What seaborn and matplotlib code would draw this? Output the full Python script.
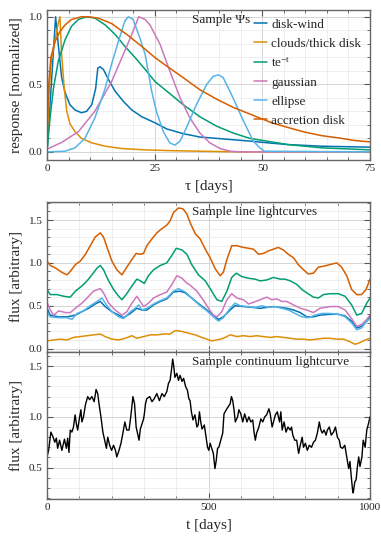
import numpy as np
import pandas as pd
import matplotlib
matplotlib.use("Agg")
import matplotlib.pyplot as plt
import seaborn as sns
from matplotlib.ticker import MultipleLocator, FormatStrFormatter

# ---------------- data: transfer functions (top panel) ----------------
labels = ["disk-wind", "clouds/thick disk", r"te$^{-\mathrm{t}}$", "gaussian", "ellipse", "accretion disk"]

tau_wind = [0, 1.0, 2.0, 2.6, 3.4, 4.2, 5.3, 6.5, 8.0, 9.2, 10.4, 11.3, 11.8, 12.3, 13.1, 14.2, 15.8,
            17.7, 19.7, 22.0, 25.1, 27.8, 31.6, 35.5, 39.4, 43.2, 47.1, 52, 56, 63.8, 75]
psi_wind = [0, 0.5, 1.0, 0.80, 0.55, 0.44, 0.35, 0.31, 0.29, 0.30, 0.35, 0.47, 0.62, 0.63, 0.61, 0.54, 0.45,
            0.375, 0.31, 0.26, 0.215, 0.17, 0.135, 0.11, 0.10, 0.09, 0.08, 0.065, 0.054, 0.042, 0.035]

tau_clouds = [0, 0.5, 1.0, 2.0, 2.6, 3.0, 3.4, 4.0, 4.6, 5.3, 6.5, 8.0, 10.4, 13.5, 17.3, 22.8, 27.8, 35.5, 45, 75]
psi_clouds = [0, 0.45, 0.68, 0.85, 0.95, 1.0, 0.72, 0.47, 0.30, 0.21, 0.15, 0.10, 0.067, 0.042, 0.025, 0.015,
              0.01, 0.005, 0.0, 0.0]

tau_tet = [0, 0.7, 1.5, 2.6, 4.2, 5.7, 7.3, 9.2, 11.1, 13.5, 15.8, 18.1, 20.4, 22.8, 25.1, 27.8, 31.6, 35.5,
           39.4, 43.2, 47.1, 56, 63.8, 75]
psi_tet = [0, 0.25, 0.47, 0.67, 0.83, 0.93, 0.98, 1.0, 0.99, 0.94, 0.87, 0.78, 0.70, 0.61, 0.52, 0.45, 0.35, 0.26,
           0.19, 0.14, 0.10, 0.054, 0.03, 0.015]

tau_gauss = [0, 3.4, 7.3, 11.1, 15, 18.1, 19.7, 21.3, 22.8, 23.9, 26.2, 28.5, 30.9, 33.2, 35.5, 37.8, 40.2, 42.5, 45, 75]
psi_gauss = [0.02, 0.07, 0.15, 0.30, 0.52, 0.75, 0.87, 1.0, 0.98, 0.94, 0.80, 0.60, 0.40, 0.25, 0.14, 0.067,
             0.025, 0.005, 0, 0]

tau_ell = [0, 4.2, 6.5, 8.8, 11.1, 13.5, 15, 16.6, 18.1, 18.9, 20, 21.6, 22.8, 24.3, 25.4, 27, 28.5, 29.7, 30.9,
           32.4, 34.7, 37.1, 38.6, 39.8, 40.9, 43.2, 45.6, 47.9, 49.4, 50.5, 75]
psi_ell = [0, 0.005, 0.03, 0.10, 0.25, 0.47, 0.65, 0.82, 0.97, 1.0, 0.98, 0.84, 0.72, 0.45, 0.30, 0.15, 0.067,
           0.05, 0.08, 0.18, 0.35, 0.50, 0.56, 0.57, 0.55, 0.40, 0.23, 0.08, 0.03, 0.005, 0]

tau_acc = [0, 0.4, 0.9, 1.9, 3.0, 4.2, 5.7, 8.0, 9.6, 11.9, 15, 18.9, 22.8, 25, 27.8, 31.6, 35.5, 39.4, 43.2,
           47.1, 52.2, 56, 59.9, 63.8, 67.6, 71.5, 75]
psi_acc = [0.15, 0.5, 0.70, 0.82, 0.89, 0.94, 0.98, 1.0, 1.0, 0.99, 0.95, 0.86, 0.76, 0.70, 0.635, 0.55, 0.46,
           0.39, 0.33, 0.28, 0.215, 0.18, 0.146, 0.12, 0.104, 0.084, 0.074]

# ---------------- data: line lightcurves (middle panel) ----------------
t_wind = [0, 10, 36, 62, 88, 108, 129, 149, 165, 180, 201, 222, 237, 258, 278, 294, 309, 330, 351, 371,
          392, 412, 428, 448, 474, 495, 515, 531, 546, 567, 582, 608, 639, 660, 680, 701, 722, 742, 763, 784,
          804, 825, 845, 876, 902, 923, 943, 959, 974, 990, 1000]
f_wind = [0.47, 0.39, 0.37, 0.37, 0.39, 0.43, 0.47, 0.52, 0.55, 0.49, 0.43, 0.39, 0.36, 0.41, 0.47, 0.45, 0.45,
          0.51, 0.55, 0.58, 0.66, 0.67, 0.65, 0.59, 0.51, 0.45, 0.39, 0.34, 0.37, 0.45, 0.50, 0.49, 0.48, 0.47,
          0.48, 0.49, 0.48, 0.47, 0.45, 0.42, 0.37, 0.37, 0.39, 0.40, 0.40, 0.38, 0.32, 0.24, 0.26, 0.32, 0.37]

t_clouds = [0, 21, 41, 62, 82, 103, 124, 144, 165, 180, 201, 222, 242, 263, 278, 299, 320, 340, 361, 381,
            397, 418, 438, 459, 479, 495, 510, 526, 546, 567, 588, 608, 629, 649, 670, 691, 711, 732, 753, 773,
            794, 814, 835, 856, 876, 897, 918, 938, 954, 969, 985, 1000]
f_clouds = [0.09, 0.10, 0.11, 0.10, 0.13, 0.14, 0.15, 0.16, 0.17, 0.14, 0.11, 0.10, 0.12, 0.15, 0.12, 0.14,
            0.16, 0.16, 0.17, 0.17, 0.21, 0.20, 0.18, 0.16, 0.13, 0.11, 0.09, 0.10, 0.12, 0.16, 0.14, 0.15,
            0.14, 0.15, 0.14, 0.13, 0.14, 0.13, 0.12, 0.11, 0.11, 0.10, 0.11, 0.12, 0.12, 0.11, 0.11, 0.08,
            0.05, 0.07, 0.10, 0.12]

t_tet = [0, 10, 31, 52, 72, 88, 108, 124, 139, 155, 165, 175, 188, 206, 222, 232, 245, 263, 278, 289,
         301, 314, 330, 351, 371, 387, 400, 418, 433, 448, 469, 490, 510, 526, 541, 557, 572, 586, 603, 624,
         644, 660, 680, 701, 722, 737, 753, 773, 789, 804, 825, 840, 856, 876, 902, 923, 943, 959, 974, 990, 1000]
f_tet = [0.69, 0.63, 0.63, 0.61, 0.60, 0.67, 0.73, 0.79, 0.86, 0.94, 0.97, 0.92, 0.81, 0.69, 0.61, 0.57, 0.63,
         0.73, 0.81, 0.79, 0.76, 0.85, 0.92, 0.97, 1.00, 1.09, 1.17, 1.15, 1.10, 0.98, 0.86, 0.79, 0.67, 0.57,
         0.55, 0.67, 0.83, 0.88, 0.84, 0.82, 0.81, 0.79, 0.80, 0.83, 0.81, 0.81, 0.79, 0.75, 0.69, 0.65, 0.60,
         0.59, 0.63, 0.64, 0.64, 0.61, 0.51, 0.39, 0.41, 0.53, 0.59]

t_gauss = [0, 10, 21, 36, 57, 72, 88, 108, 124, 144, 165, 175, 191, 211, 232, 247, 263, 278, 289, 299,
           314, 330, 351, 371, 387, 402, 418, 431, 443, 464, 485, 500, 515, 526, 541, 557, 572, 588, 608, 624,
           639, 660, 680, 696, 711, 727, 742, 763, 784, 804, 825, 845, 876, 902, 923, 943, 959, 974, 990, 1000]
f_gauss = [0.54, 0.45, 0.39, 0.44, 0.42, 0.42, 0.47, 0.53, 0.59, 0.67, 0.70, 0.65, 0.53, 0.45, 0.39, 0.43,
           0.53, 0.61, 0.55, 0.49, 0.53, 0.59, 0.63, 0.66, 0.75, 0.85, 0.82, 0.77, 0.74, 0.67, 0.56, 0.47, 0.39,
           0.37, 0.43, 0.57, 0.64, 0.59, 0.57, 0.52, 0.54, 0.57, 0.60, 0.57, 0.58, 0.55, 0.55, 0.51, 0.47, 0.45,
           0.42, 0.47, 0.49, 0.49, 0.45, 0.35, 0.26, 0.28, 0.34, 0.39]

t_ell = [0, 10, 36, 62, 77, 93, 113, 134, 155, 170, 184, 201, 222, 237, 258, 273, 284, 294, 309, 330,
         351, 371, 392, 407, 428, 448, 474, 495, 515, 531, 546, 567, 582, 598, 624, 644, 665, 686, 706, 727,
         747, 768, 789, 809, 830, 851, 876, 902, 923, 943, 959, 974, 990, 1000]
f_ell = [0.43, 0.37, 0.36, 0.36, 0.34, 0.41, 0.44, 0.50, 0.55, 0.59, 0.51, 0.43, 0.37, 0.35, 0.43, 0.47, 0.51,
         0.45, 0.47, 0.52, 0.56, 0.59, 0.67, 0.70, 0.66, 0.59, 0.50, 0.44, 0.37, 0.32, 0.36, 0.47, 0.53, 0.50,
         0.49, 0.48, 0.50, 0.48, 0.49, 0.47, 0.45, 0.41, 0.37, 0.36, 0.39, 0.41, 0.41, 0.40, 0.37, 0.30, 0.22,
         0.24, 0.32, 0.35]

t_acc = [0, 10, 26, 46, 62, 72, 88, 103, 119, 134, 149, 165, 175, 186, 201, 216, 232, 247, 263, 276,
         289, 299, 309, 325, 340, 356, 371, 381, 392, 407, 421, 433, 443, 459, 474, 490, 505, 521, 536, 546,
         557, 572, 588, 608, 624, 639, 655, 670, 686, 701, 716, 732, 747, 763, 778, 794, 809, 825, 840, 856,
         876, 897, 912, 928, 943, 959, 974, 988, 1000]
f_acc = [1.02, 0.97, 0.94, 0.89, 0.86, 0.90, 0.98, 1.02, 1.10, 1.20, 1.30, 1.35, 1.30, 1.18, 1.02, 0.92, 0.86,
         0.95, 1.04, 1.11, 1.10, 1.11, 1.20, 1.28, 1.35, 1.40, 1.44, 1.49, 1.59, 1.64, 1.63, 1.57, 1.47, 1.34,
         1.28, 1.16, 1.06, 0.93, 0.85, 0.89, 1.04, 1.20, 1.20, 1.18, 1.17, 1.16, 1.10, 1.11, 1.14, 1.16, 1.18,
         1.15, 1.10, 1.06, 0.98, 0.92, 0.87, 0.88, 0.95, 0.96, 0.98, 1.00, 0.95, 0.85, 0.69, 0.63, 0.63, 0.69, 0.81]

# ---------------- data: continuum lightcurve (bottom panel) ----------------
t_cont = [0, 5, 12, 19, 24, 29, 33, 39, 46, 54, 60, 64, 68, 72, 77, 82, 87, 91, 95, 100, 105, 108, 113, 119,
          126, 132, 139, 146, 152, 157, 161, 167, 173, 177, 184, 188, 194, 200, 206, 212, 216, 223, 229, 235,
          241, 247, 254, 260, 266, 271, 276, 280, 285, 289, 294, 299, 301, 305, 309, 318, 325, 332, 340, 348,
          356, 363, 371, 376, 381, 386, 389, 392, 396, 402, 407, 412, 418, 423, 429, 435, 439, 443, 447, 452,
          458, 464, 468, 472, 476, 480, 487, 493, 497, 501, 505, 509, 515, 520, 524, 528, 532, 538, 544, 548,
          555, 561, 567, 571, 575, 579, 583, 590, 594, 600, 606, 612, 619, 625, 631, 637, 641, 645, 649, 656,
          662, 668, 674, 680, 687, 691, 697, 703, 707, 713, 720, 724, 728, 734, 740, 746, 753, 757, 761, 767,
          773, 779, 784, 790, 794, 800, 806, 812, 819, 825, 831, 837, 843, 847, 852, 858, 864, 868, 874, 880,
          887, 893, 899, 905, 909, 915, 922, 928, 934, 938, 942, 946, 948, 953, 957, 961, 965, 969, 975, 979,
          985, 990, 995, 1000]
f_cont = [0.605, 0.67, 0.85, 0.80, 0.75, 0.79, 0.69, 0.77, 0.67, 0.78, 0.69, 0.79, 0.65, 0.87, 0.85, 0.90,
          1.02, 0.93, 0.87, 0.98, 1.07, 0.95, 1.00, 1.12, 1.20, 1.17, 1.20, 1.15, 1.27, 1.23, 1.13, 1.00, 0.85,
          0.79, 0.69, 0.80, 0.72, 0.67, 0.72, 0.67, 0.605, 0.67, 0.74, 0.84, 0.95, 0.87, 0.87, 1.02, 1.20,
          1.13, 0.90, 0.84, 0.77, 0.88, 0.93, 0.98, 1.02, 1.13, 1.18, 1.20, 1.15, 1.18, 1.23, 1.16, 1.23, 1.20,
          1.25, 1.33, 1.36, 1.48, 1.57, 1.51, 1.39, 1.43, 1.36, 1.41, 1.35, 1.38, 1.30, 1.26, 1.18, 1.16, 1.05,
          0.97, 1.02, 0.90, 0.92, 1.05, 0.95, 0.88, 0.92, 0.79, 0.70, 0.67, 0.74, 0.70, 0.64, 0.49, 0.57, 0.69,
          0.70, 0.77, 0.84, 1.03, 1.07, 1.10, 1.13, 1.20, 1.16, 1.07, 0.95, 1.00, 1.07, 1.03, 0.95, 1.03, 0.95,
          1.00, 0.95, 0.97, 0.85, 0.77, 0.84, 0.90, 0.98, 0.95, 1.00, 1.02, 1.08, 1.03, 0.90, 0.97, 1.02, 1.05,
          0.95, 1.05, 0.87, 0.95, 0.85, 0.90, 0.87, 0.90, 0.82, 0.77, 0.77, 0.64, 0.72, 0.80, 0.70, 0.74, 0.67,
          0.72, 0.70, 0.75, 0.77, 0.84, 0.95, 0.88, 0.84, 0.87, 0.82, 0.87, 0.90, 0.82, 0.85, 0.90, 0.80, 0.77,
          0.70, 0.69, 0.72, 0.605, 0.49, 0.56, 0.41, 0.28, 0.25, 0.36, 0.38, 0.51, 0.605, 0.51, 0.605, 0.77,
          0.70, 0.87, 0.93, 1.00]

# ---------------- style ----------------
sns.set_theme(style="whitegrid")
plt.rcParams["font.family"] = ["Liberation Serif", "DejaVu Serif"]
plt.rcParams["mathtext.fontset"] = "custom"
plt.rcParams["mathtext.rm"] = "Liberation Serif"
plt.rcParams["mathtext.it"] = "Liberation Serif:italic"

pal = sns.color_palette("colorblind")
colors = [pal[0], pal[1], pal[2], pal[4], pal[9], pal[3]]
palette = dict(zip(labels, colors))

top_sets = [(tau_wind, psi_wind), (tau_clouds, psi_clouds), (tau_tet, psi_tet),
            (tau_gauss, psi_gauss), (tau_ell, psi_ell), (tau_acc, psi_acc)]
mid_sets = [(t_wind, f_wind), (t_clouds, f_clouds), (t_tet, f_tet),
            (t_gauss, f_gauss), (t_ell, f_ell), (t_acc, f_acc)]

df_top = pd.concat([pd.DataFrame({"x": x, "y": y, "model": lab}) for lab, (x, y) in zip(labels, top_sets)])
df_mid = pd.concat([pd.DataFrame({"x": x, "y": y, "model": lab}) for lab, (x, y) in zip(labels, mid_sets)])
df_cont = pd.DataFrame({"t": t_cont, "f": f_cont})

W, H = 381, 544
fig = plt.figure(figsize=(W / 100, H / 100), dpi=100)
left, width = 47 / W, 323 / W
ax1 = fig.add_axes([left, 1 - 160 / H, width, 150 / H])
ax2 = fig.add_axes([left, 1 - 352 / H, width, 150 / H])
ax3 = fig.add_axes([left, 1 - 499 / H, width, 147 / H], sharex=ax2)

sns.lineplot(data=df_top, x="x", y="y", hue="model", hue_order=labels, palette=palette,
             sort=False, estimator=None, linewidth=1.1, ax=ax1)
sns.lineplot(data=df_mid, x="x", y="y", hue="model", hue_order=labels, palette=palette,
             sort=False, estimator=None, linewidth=1.1, ax=ax2, legend=False)
sns.lineplot(data=df_cont, x="t", y="f", color="black", linewidth=1.0, ax=ax3)

ax1.set_xlim(0, 75)
ax1.set_ylim(-0.06, 1.05)
ax2.set_xlim(0, 1000)
ax2.set_ylim(-0.04, 1.71)
ax3.set_ylim(0.19, 1.64)

ax1.xaxis.set_major_locator(MultipleLocator(25))
ax1.xaxis.set_minor_locator(MultipleLocator(5))
ax1.yaxis.set_major_locator(MultipleLocator(0.5))
ax1.yaxis.set_minor_locator(MultipleLocator(0.1))
for ax in (ax2, ax3):
    ax.xaxis.set_major_locator(MultipleLocator(500))
    ax.xaxis.set_minor_locator(MultipleLocator(100))
    ax.yaxis.set_major_locator(MultipleLocator(0.5))
    ax.yaxis.set_minor_locator(MultipleLocator(0.1))

for ax in (ax1, ax2, ax3):
    ax.grid(which="major", color="#d4d4d4", linewidth=0.7)
    ax.grid(which="minor", color="#ececec", linewidth=0.6)
    ax.set_axisbelow(True)
    for s in ax.spines.values():
        s.set_color("#666666")
        s.set_linewidth(1.0)
    ax.tick_params(which="both", direction="in", top=True, right=True, bottom=True, left=True,
                   colors="#555555", labelcolor="#222222", labelsize=8, pad=3)
    ax.tick_params(which="major", length=4, width=0.8)
    ax.tick_params(which="minor", length=2, width=0.6)
    ax.yaxis.set_major_formatter(FormatStrFormatter("%.1f"))

plt.setp(ax2.get_xticklabels(), visible=False)

ax1.set_xlabel("τ [days]", fontsize=11, labelpad=5)
ax1.set_ylabel("response [normalized]", fontsize=11, labelpad=4)
ax2.set_xlabel("")
ax2.set_ylabel("flux [arbitrary]", fontsize=11, labelpad=4)
ax3.set_xlabel("t [days]", fontsize=11, labelpad=5)
ax3.set_ylabel("flux [arbitrary]", fontsize=11, labelpad=4)

ax1.text(0.45, 0.975, "Sample Ψs", transform=ax1.transAxes, ha="left", va="top", fontsize=9.5, color="#222222")
ax2.text(0.45, 0.975, "Sample line lightcurves", transform=ax2.transAxes, ha="left", va="top", fontsize=9.5, color="#222222")
ax3.text(0.45, 0.975, "Sample continuum lightcurve", transform=ax3.transAxes, ha="left", va="top", fontsize=9.5, color="#222222")

handles, lbls = ax1.get_legend_handles_labels()
ax1.legend(handles, lbls, loc="upper right", bbox_to_anchor=(1.0, 1.0), frameon=False, fontsize=9.5,
           handlelength=1.0, handletextpad=0.3, labelspacing=0.5, borderaxespad=0.25)

fig.savefig("out.png", dpi=100)
